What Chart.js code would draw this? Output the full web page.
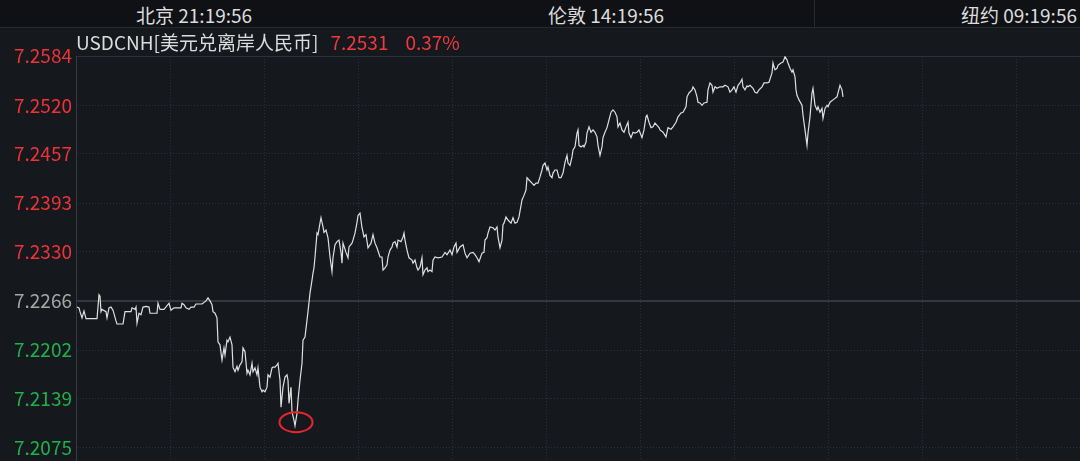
<!DOCTYPE html>
<html><head><meta charset="utf-8">
<script src="https://cdn.jsdelivr.net/npm/chart.js@4"></script>
<style>
html,body{margin:0;padding:0;background:#15181d;}
#wrap{position:relative;width:1080px;height:461px;overflow:hidden;font-family:"Noto Sans CJK SC","Noto Sans",sans-serif;}
#c{position:absolute;left:0;top:0;}
#hdr{position:absolute;left:0;top:0;width:1080px;height:27px;background:#0f1115;border-bottom:1px solid #262a30;}
#sep{position:absolute;left:814px;top:0;width:1px;height:27px;background:#262a30;}
.t{position:absolute;white-space:nowrap;font-size:19px;line-height:20px;color:#dcdcdc;}
</style></head>
<body>
<div id="wrap">
<canvas id="c" width="1080" height="461"></canvas>
<div id="hdr"></div><div id="sep"></div>
<div class="t" id="h1" style="left:136px;top:5px;"></div>
<div class="t" id="h2" style="left:548px;top:5px;"></div>
<div class="t" id="h3" style="right:3px;top:5px;"></div>
<div class="t" style="left:76px;top:32px;"><span id="nm"></span><span id="px" style="color:#f03a3e;margin-left:12px;"></span><span id="pc" style="color:#f03a3e;margin-left:17px;"></span></div>
</div>
<script>
// header content
const clockLabels = ["北京 21:19:56", "伦敦 14:19:56", "纽约 09:19:56"];
const symbolName = "USDCNH[美元兑离岸人民币]";
const lastPrice = "7.2531";
const changePct = "0.37%";
const prevClose = 7.2266;

// y-axis tick labels (top to bottom)
const yTickLabels = ["7.2584","7.2520","7.2457","7.2393","7.2330","7.2266","7.2202","7.2139","7.2075"];

// time index (session steps) and price
const times = [
  1,3,4,6,8,10,21,22,23,24,25,26,30,31,33,35,37,40,41,47,49,55,56,59,60,61,63,65,67,70,73,74,81,82,84,88,93,95,98,105,106,108,110,113,115,118,120,126,130,132,134,
  136,137,139,141,142,144,146,148,149,151,
  152,154,156,157,159,161,162,164,166,167,
  169,171,172,174,176,177,179,181,182,184,
  186,187,189,191,192,194,196,197,199,201,
  202,204,205,207,209,211,212,213,215,216,
  218,219,221,222,224,226,227,229,231,232,
  234,236,
  237,238,239,241,242,244,245,247,248,250,
  252,254,256,257,259,261,263,265,266,267,
  270,272,273,276,277,279,281,282,284,286,
  288,290,292,295,297,299,301,304,306,307,
  309,311,312,314,316,317,319,321,322,325,
  327,328,329,331,333,336,337,339,341,342,
  344,346,347,349,351,352,354,356,357,359,
  362,366,369,371,374,376,378,380,381,384,
  387,389,391,394,397,399,401,403,406,408,
  409,411,412,414,417,419,421,422,424,426,
  427,
  428,430,432,435,437,439,441,443,446,448,
  450,451,453,456,458,460,462,464,466,467,
  469,471,472,474,476,477,479,481,483,485,
  487,489,491,492,494,496,497,499,501,502,
  503,505,507,508,510,511,513,515,517,519,
  521,522,524,526,527,529,531,533,535,537,
  539,541,542,544,546,548,550,552,553,555,
  557,559,561,563,566,568,570,571,573,575,
  577,579,581,583,
  584,587,590,592,595,597,600,602,605,607,
  610,611,613,616,617,619,621,622,624,626,
  628,631,632,634,636,637,639,641,644,647,
  649,652,654,656,658,660,662,664,666,667,
  669,671,672,674,677,679,681,683,686,688,
  691,693,696,697,698,699,701,702,705,707,
  709,711,712,714,716,717,719,720,721,723,
  726,727,729,731,732,734,736,737,739,741,
  742,744,746,747,749,751,752,754,757,759,
  761,762,764,766,767
];
const prices = [
  7.2258,7.2257,7.2252,7.2244,7.2253,7.2243,7.2243,7.2258,7.2274,7.2272,7.2252,7.2255,7.2252,7.2244,7.2257,7.2258,7.2254,7.2240,7.2236,7.2236,7.2252,7.2252,7.2257,7.2255,7.2258,7.2237,7.2250,7.2248,7.2258,7.2259,7.2258,7.2250,7.2250,7.2263,7.2255,7.2255,7.2263,7.2254,7.2257,7.2257,7.2263,7.2261,7.2257,7.2255,7.2258,7.2258,7.2262,7.2262,7.2266,7.2270,7.2266,
  7.2261,7.2252,7.2250,7.2244,7.2213,7.2209,7.2189,7.2205,7.2196,7.2215,
  7.2213,7.2219,7.2209,7.2180,7.2174,7.2181,7.2176,7.2183,7.2187,7.2205,
  7.2200,7.2172,7.2176,7.2170,7.2185,7.2174,7.2179,7.2170,7.2179,7.2154,
  7.2148,7.2150,7.2148,7.2154,7.2170,7.2167,7.2179,7.2180,7.2180,7.2183,
  7.2185,7.2163,7.2128,7.2154,7.2167,7.2170,7.2163,7.2133,7.2154,7.2122,
  7.2111,7.2104,7.2120,7.2137,7.2163,7.2185,7.2215,7.2219,7.2241,7.2252,
  7.2276,7.2293,
  7.2302,7.2309,7.2323,7.2354,7.2352,7.2367,7.2374,7.2362,7.2355,7.2358,
  7.2348,7.2323,7.2304,7.2322,7.2339,7.2343,7.2345,7.2329,7.2315,7.2341,
  7.2329,7.2322,7.2336,7.2341,7.2345,7.2354,7.2368,7.2377,7.2380,7.2361,
  7.2349,7.2352,7.2335,7.2341,7.2352,7.2341,7.2335,7.2323,7.2323,7.2306,
  7.2309,7.2313,7.2323,7.2332,7.2336,7.2341,7.2343,7.2336,7.2345,7.2343,
  7.2349,7.2354,7.2345,7.2332,7.2322,7.2319,7.2315,7.2319,7.2309,7.2306,
  7.2310,7.2322,7.2300,7.2306,7.2309,7.2304,7.2306,7.2304,7.2319,7.2323,
  7.2322,7.2323,7.2329,7.2326,7.2332,7.2326,7.2336,7.2341,7.2329,7.2336,
  7.2339,7.2328,7.2322,7.2328,7.2329,7.2326,7.2322,7.2317,7.2328,7.2329,
  7.2345,7.2348,7.2354,7.2362,7.2361,7.2358,7.2362,7.2349,7.2335,7.2345,
  7.2365,
  7.2367,7.2375,7.2371,7.2367,7.2374,7.2367,7.2368,7.2375,7.2397,7.2403,
  7.2410,7.2426,7.2423,7.2419,7.2416,7.2419,7.2419,7.2427,7.2436,7.2442,
  7.2445,7.2436,7.2440,7.2429,7.2426,7.2432,7.2436,7.2436,7.2426,7.2426,
  7.2432,7.2446,7.2455,7.2445,7.2442,7.2453,7.2462,7.2466,7.2484,7.2488,
  7.2468,7.2466,7.2468,7.2466,7.2472,7.2484,7.2492,7.2485,7.2488,7.2485,
  7.2479,7.2468,7.2455,7.2466,7.2478,7.2485,7.2491,7.2501,7.2511,7.2514,
  7.2511,7.2505,7.2492,7.2497,7.2488,7.2485,7.2492,7.2498,7.2484,7.2478,
  7.2485,7.2484,7.2485,7.2488,7.2478,7.2488,7.2505,7.2507,7.2498,7.2491,
  7.2492,7.2497,7.2494,7.2491,
  7.2488,7.2485,7.2479,7.2491,7.2489,7.2492,7.2498,7.2505,7.2510,7.2511,
  7.2518,7.2531,7.2536,7.2540,7.2544,7.2540,7.2531,7.2524,7.2523,7.2520,
  7.2523,7.2524,7.2540,7.2549,7.2546,7.2537,7.2544,7.2542,7.2544,7.2544,
  7.2546,7.2544,7.2537,7.2540,7.2544,7.2537,7.2546,7.2549,7.2554,7.2544,
  7.2540,7.2545,7.2544,7.2546,7.2542,7.2537,7.2536,7.2540,7.2544,7.2549,
  7.2549,7.2550,7.2562,7.2575,7.2570,7.2566,7.2568,7.2572,7.2575,7.2576,
  7.2583,7.2579,7.2575,7.2568,7.2563,7.2566,7.2557,7.2540,7.2533,7.2527,
  7.2520,7.2507,7.2488,7.2468,7.2484,7.2505,7.2536,7.2542,7.2520,7.2514,
  7.2518,7.2511,7.2516,7.2503,7.2516,7.2520,7.2518,7.2524,7.2527,7.2529,
  7.2531,7.2536,7.2546,7.2540,7.2531
];
const sessionLength = 1004;   // total time steps across the axis
const gridStep = 94;          // time steps between vertical grid lines

document.getElementById('h1').textContent = clockLabels[0];
document.getElementById('h2').textContent = clockLabels[1];
document.getElementById('h3').textContent = clockLabels[2];
document.getElementById('nm').textContent = symbolName;
document.getElementById('px').textContent = lastPrice;
document.getElementById('pc').textContent = changePct;

const tickVals = yTickLabels.map(Number);
const yMax = tickVals[0];
const yMin = tickVals[tickVals.length-1] - (tickVals[0]-tickVals[tickVals.length-1]) * 13/392;

const RED = '#ee3339', GREEN = '#1fb14b', GRAY = '#a6a6a6';
const DOT = '#2b2f36';

const circlePlugin = {
  id: 'lowCircle',
  afterDatasetsDraw(chart) {
    let mi = 0;
    prices.forEach((p,i)=>{ if (p < prices[mi]) mi = i; });
    const xs = chart.scales.x, ys = chart.scales.y;
    const cx = xs.getPixelForValue(times[mi]) + 1;
    const cy = ys.getPixelForValue(prices[mi]) - 3.5;
    const ctx = chart.ctx;
    ctx.save();
    ctx.strokeStyle = '#e8262c';
    ctx.lineWidth = 2;
    ctx.beginPath();
    ctx.ellipse(cx, cy, 16.5, 10, 0, 0, Math.PI*2);
    ctx.stroke();
    ctx.restore();
  }
};

new Chart(document.getElementById('c'), {
  type: 'line',
  data: {
    datasets: [{
      data: times.map((t,i)=>({x:t, y:prices[i]})),
      borderColor: '#e0e0e0',
      borderWidth: 1.2,
      pointRadius: 0,
      tension: 0,
      fill: false
    }]
  },
  options: {
    responsive: false,
    animation: false,
    devicePixelRatio: 1,
    layout: { padding: { top: 56, left: 0, right: 0, bottom: 0 } },
    plugins: { legend: {display:false}, tooltip: {enabled:false} },
    scales: {
      x: {
        type: 'linear', min: 0, max: sessionLength,
        afterBuildTicks(s){ const a=[]; for(let v=0; v<sessionLength; v+=gridStep) a.push({value:v}); s.ticks=a; },
        afterFit(s){ s.height = 0; s.paddingLeft = 0; s.paddingRight = 0; },
        ticks: { display: false },
        grid: { color: (c)=> c.tick && c.tick.value===0 ? '#363a40' : DOT, lineWidth: 1, drawTicks: false },
        border: { display: false, dash: (c)=> (c.tick && c.tick.value===0) ? [] : [1,2] }
      },
      y: {
        type: 'linear', min: yMin, max: yMax,
        afterBuildTicks(s){ s.ticks = tickVals.map(v=>({value:v})); },
        afterFit(s){ s.width = 76; s.paddingTop = 0; s.paddingBottom = 0; },
        ticks: {
          padding: 4,
          autoSkip: false,
          font: { family: '"Noto Sans CJK SC","Noto Sans",sans-serif', size: 19 },
          color: (c)=> { const v = c.tick.value; return Math.abs(v-prevClose)<1e-6 ? GRAY : (v>prevClose ? RED : GREEN); },
          callback: (v, i)=> yTickLabels[i]
        },
        grid: {
          drawTicks: false,
          color: (c)=> { const v = c.tick ? c.tick.value : 0; return (Math.abs(v-prevClose)<1e-6) ? '#34383e' : (Math.abs(v-yMax)<1e-6 ? '#2e3238' : DOT); },
          lineWidth: (c)=> { const v = c.tick ? c.tick.value : 0; return Math.abs(v-prevClose)<1e-6 ? 2 : 1; }
        },
        border: { display: true, color: '#363a40', width: 1,
          dash: (c)=> { if (!c.tick) return []; const v=c.tick.value; return (Math.abs(v-prevClose)<1e-6 || Math.abs(v-yMax)<1e-6) ? [] : [1,2]; } }
      }
    }
  },
  plugins: [circlePlugin]
});
</script>
</body></html>
